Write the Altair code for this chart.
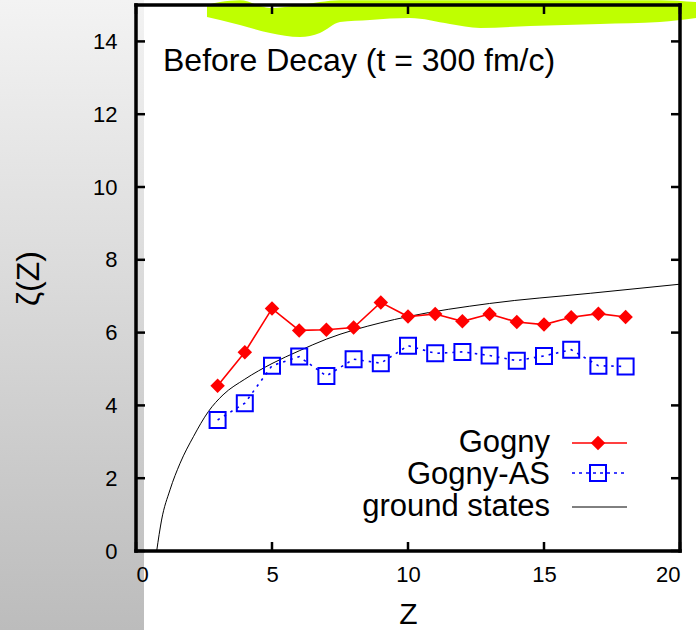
import altair as alt
import pandas as pd

# Fragment charge number Z for the two transport calculations
z_vals = list(range(3, 19))
gogny = [4.54, 5.46, 6.66, 6.06, 6.08, 6.14, 6.83, 6.44,
         6.51, 6.31, 6.51, 6.29, 6.22, 6.42, 6.52, 6.43]
gogny_as = [3.60, 4.06, 5.09, 5.34, 4.81, 5.27, 5.16, 5.64,
            5.43, 5.47, 5.37, 5.23, 5.36, 5.53, 5.09, 5.07]

# Ground-state reference curve
gs_z = [0.76, 0.94, 1.25, 1.62, 2.11, 2.66, 3.2, 4.0, 5.0, 6.0, 7.0,
        9.0, 10.0, 13.0, 16.7, 20.0]
gs_val = [0.0, 0.85, 1.68, 2.41, 3.14, 3.83, 4.29, 4.72, 5.15, 5.50,
          5.82, 6.27, 6.44, 6.80, 7.08, 7.33]

# Highlighter stroke along the top edge
hl_z = [2.61, 3.09, 3.82, 4.93, 6.03, 6.76, 7.5, 8.6, 10.07, 11.54,
        12.65, 14.49, 17.06, 19.26, 20.59]
hl_top = [15.0, 15.08, 15.13, 14.92, 15.0, 15.08, 15.13, 15.13, 15.13,
          15.13, 15.13, 15.13, 15.13, 15.13, 15.08]
hl_bot = [14.67, 14.59, 14.45, 14.23, 14.12, 14.23, 14.53, 14.59, 14.64,
          14.48, 14.37, 14.42, 14.48, 14.53, 14.64]

x_ticks = [0, 5, 10, 15, 20]
y_ticks = [0, 2, 4, 6, 8, 10, 12, 14]

W, H = 544, 546
FONT = "Liberation Sans"

pts = pd.DataFrame({"Z": z_vals, "gogny": gogny, "gogny_as": gogny_as})
gs = pd.DataFrame({"Z": gs_z, "val": gs_val})
hl = pd.DataFrame({"Z": hl_z, "top": hl_top, "bot": hl_bot})
xt = pd.DataFrame({"v": x_ticks})
yt = pd.DataFrame({"v": y_ticks})

xscale = alt.Scale(domain=[0, 20], nice=False, zero=False)
yscale = alt.Scale(domain=[0, 15], nice=False, zero=False)
xaxis = alt.Axis(values=x_ticks, title="Z", ticks=False, tickSize=0, domain=False,
                 grid=False, labelFontSize=22, labelFont=FONT, labelColor="black",
                 labelPadding=13, titleFont=FONT, titleFontSize=30,
                 titleFontWeight="normal", titleColor="black", titleBaseline="alphabetic",
                 titleY=72, zindex=1, format="d")
yaxis = alt.Axis(values=y_ticks, title="ζ(Z)", ticks=False, tickSize=0, domain=False,
                 grid=False, labelFontSize=22, labelFont=FONT, labelColor="black",
                 labelPadding=19, titleFont=FONT, titleFontSize=32,
                 titleFontWeight="normal", titleColor="black", titleBaseline="alphabetic",
                 titleX=-98, zindex=1, format="d")


def X(f):
    return alt.X(f, type="quantitative", scale=xscale, axis=xaxis)


def Y(f):
    return alt.Y(f, type="quantitative", scale=yscale, axis=yaxis)


# gray strip on the left edge of the page
strip = alt.Chart(pd.DataFrame({"a": [0]})).mark_rect(
    color=alt.LinearGradient(
        gradient="linear",
        stops=[alt.GradientStop(color="#f3f3f3", offset=0),
               alt.GradientStop(color="#bcbcbc", offset=1)],
        x1=0, x2=0, y1=0, y2=1),
    clip=False,
).encode(x=alt.value(-136), x2=alt.value(8), y=alt.value(-5), y2=alt.value(625))

highlight = alt.Chart(hl).mark_area(color="#bfff00", interpolate="monotone",
                                     clip=False).encode(
    x=X("Z"), y=Y("top"), y2=alt.Y2("bot"))

ground = alt.Chart(gs).mark_line(color="black", strokeWidth=1,
                                 interpolate="monotone").encode(x=X("Z"), y=Y("val"))

as_line = alt.Chart(pts).mark_line(color="#0000ff", strokeWidth=1.6,
                                   strokeDash=[2.5, 5]).encode(x=X("Z"), y=Y("gogny_as"))
as_pts = alt.Chart(pts).mark_point(shape="square", size=256, filled=False,
                                   color="#0000ff", strokeWidth=2,
                                   opacity=1).encode(x=X("Z"), y=Y("gogny_as"))

g_line = alt.Chart(pts).mark_line(color="#ff0000", strokeWidth=1.6).encode(
    x=X("Z"), y=Y("gogny"))
g_pts = alt.Chart(pts).mark_point(shape="diamond", size=210, filled=True,
                                  color="#ff0000", opacity=1).encode(
    x=X("Z"), y=Y("gogny"))

# inward ticks on all four sides
tk = dict(color="black", strokeWidth=2.5)
tick_b = alt.Chart(xt).mark_rule(**tk).encode(x=X("v"), y=alt.value(H), y2=alt.value(H - 9))
tick_t = alt.Chart(xt).mark_rule(**tk).encode(x=X("v"), y=alt.value(0), y2=alt.value(9))
tick_l = alt.Chart(yt).mark_rule(**tk).encode(y=Y("v"), x=alt.value(0), x2=alt.value(9))
tick_r = alt.Chart(yt).mark_rule(**tk).encode(y=Y("v"), x=alt.value(W), x2=alt.value(W - 9))

# frame
one = pd.DataFrame({"a": [0]})
fr = dict(color="black", strokeWidth=3.5, strokeCap="square")
frame = [
    alt.Chart(one).mark_rule(**fr).encode(x=alt.value(0), x2=alt.value(W), y=alt.value(0)),
    alt.Chart(one).mark_rule(**fr).encode(x=alt.value(0), x2=alt.value(W), y=alt.value(H)),
    alt.Chart(one).mark_rule(**fr).encode(y=alt.value(0), y2=alt.value(H), x=alt.value(0)),
    alt.Chart(one).mark_rule(**fr).encode(y=alt.value(0), y2=alt.value(H), x=alt.value(W)),
]

label = alt.Chart(one).mark_text(
    text="Before Decay (t = 300 fm/c)", font=FONT, fontSize=32, align="left",
    baseline="alphabetic", color="black").encode(x=alt.value(27), y=alt.value(66))

# key, drawn with text to the left of each sample
key_names = ["Gogny", "Gogny-AS", "ground states"]
key_base = [447, 479, 511]
key_line = [438, 468, 502]
key_text = alt.Chart(pd.DataFrame({"name": key_names, "yb": key_base})).mark_text(
    font=FONT, fontSize=31, align="right", baseline="alphabetic", color="black").encode(
    text="name:N", x=alt.value(414), y=alt.Y("yb:Q", scale=None, axis=None))

k1 = alt.Chart(one).mark_rule(color="#ff0000", strokeWidth=1.6).encode(
    x=alt.value(436), x2=alt.value(491), y=alt.value(key_line[0]))
k1p = alt.Chart(one).mark_point(shape="diamond", size=210, filled=True, color="#ff0000",
                                opacity=1).encode(x=alt.value(462), y=alt.value(key_line[0]))
k2 = alt.Chart(one).mark_rule(color="#0000ff", strokeWidth=1.6, strokeDash=[3, 4]).encode(
    x=alt.value(436), x2=alt.value(491), y=alt.value(key_line[1]))
k2p = alt.Chart(one).mark_point(shape="square", size=256, filled=False, color="#0000ff",
                                strokeWidth=2, opacity=1).encode(
    x=alt.value(462), y=alt.value(key_line[1]))
k3 = alt.Chart(one).mark_rule(color="black", strokeWidth=1).encode(
    x=alt.value(436), x2=alt.value(491), y=alt.value(key_line[2]))

chart = alt.layer(
    strip, highlight, ground, as_line, as_pts, g_line, g_pts,
    tick_b, tick_t, tick_l, tick_r, *frame, label, key_text,
    k1, k1p, k2, k2p, k3,
).properties(
    width=W, height=H,
    autosize=alt.AutoSizeParams(type="none"),
    padding={"left": 136, "top": 5, "right": 16, "bottom": 79},
    background="white",
).configure_view(stroke=None)

chart.save("out.html", embed_options={"renderer": "svg", "actions": False})
